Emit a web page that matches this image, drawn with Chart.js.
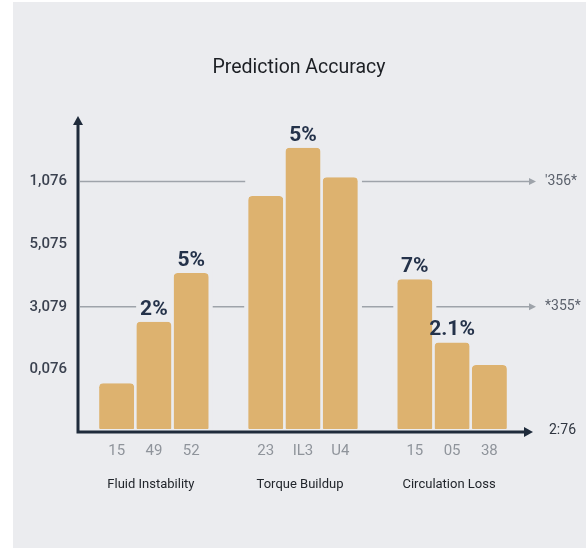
<!DOCTYPE html>
<html>
<head>
<meta charset="utf-8">
<style>
  html, body { margin: 0; padding: 0; background: #ffffff; }
  canvas { display: block; }
</style>
<script src="https://cdn.jsdelivr.net/npm/chart.js@4.4.1/dist/chart.umd.min.js"></script>
</head>
<body>
<canvas id="chart" width="586" height="548"></canvas>
<script>
// Bars, one slot per bar, empty slots separate the three groups
const categories = ['15', '49', '52', '', '23', 'IL3', 'U4', '', '15', '05', '38'];
const values = [0.78, 1.76, 2.54, null, 3.77, 4.54, 4.07, null, 2.44, 1.43, 1.07];
const valueLabels = ['', '2%', '5%', '', '', '5%', '', '', '7%', '2.1%', ''];

// Group names and the slot of each group's middle bar
const groups = ['Fluid Instability', 'Torque Buildup', 'Circulation Loss'];
const groupMiddle = [1, 5, 9];

// Value axis tick labels, one per step (0..5)
const yTickLabels = ['', '0,076', '3,079', '5,075', '1,076', ''];

// Reference lines with their right-hand labels
const refLineValues = [4, 2];
const refLineLabels = ["'356*", '*355*'];
const cornerLabel = '2:76';

const BG = '#ebecef';
const BAR = '#ddb26f';
const AXIS = '#1f2b3b';
const LABEL_FONT = 'bold 21px Roboto';

const panel = {
  id: 'panel',
  beforeDraw(chart) {
    const ctx = chart.ctx;
    ctx.save();
    ctx.fillStyle = '#ffffff';
    ctx.fillRect(0, 0, chart.width, chart.height);
    ctx.fillStyle = BG;
    ctx.fillRect(13, 2, chart.width - 13, chart.height - 2);
    ctx.restore();
  }
};

const overlay = {
  id: 'overlay',
  beforeDatasetsDraw(chart) {
    const { ctx, chartArea: a, scales: { y } } = chart;
    const bars = chart.getDatasetMeta(0).data;
    const axisX = a.left - 20;
    const gapL = bars[4].x - bars[4].width / 2 - 3;
    const gapR = bars[6].x + bars[6].width / 2 + 4;
    const tip = a.right + 28;
    ctx.save();
    ctx.strokeStyle = '#9ea3aa';
    ctx.fillStyle = '#9ea3aa';
    ctx.lineWidth = 1.5;
    refLineValues.forEach(v => {
      const py = y.getPixelForValue(v);
      ctx.beginPath();
      ctx.moveTo(axisX + 2, py);
      ctx.lineTo(gapL, py);
      ctx.moveTo(gapR, py);
      ctx.lineTo(tip - 5, py);
      ctx.stroke();
      ctx.beginPath();
      ctx.moveTo(tip, py);
      ctx.lineTo(tip - 7, py - 3.5);
      ctx.lineTo(tip - 7, py + 3.5);
      ctx.closePath();
      ctx.fill();
    });
    // keep a small margin of background around bars and value labels
    ctx.fillStyle = BG;
    bars.forEach((b, i) => {
      if (values[i] == null) return;
      ctx.fillRect(b.x - b.width / 2 - 4, b.y - 4, b.width + 8, b.base - b.y + 4);
    });
    ctx.font = LABEL_FONT;
    valueLabels.forEach((t, i) => {
      if (!t) return;
      const b = bars[i];
      const w = ctx.measureText(t).width;
      ctx.fillRect(b.x - w / 2 - 4, b.y - 7 - 19, w + 8, 23);
    });
    ctx.restore();
  },
  afterDatasetsDraw(chart) {
    const { ctx, chartArea: a, scales: { y } } = chart;
    const bars = chart.getDatasetMeta(0).data;
    const axisX = a.left - 20;
    const axisY = a.bottom;
    ctx.save();

    // axes with arrowheads
    ctx.strokeStyle = AXIS;
    ctx.fillStyle = AXIS;
    ctx.lineWidth = 3;
    ctx.beginPath();
    ctx.moveTo(axisX, axisY + 1.5);
    ctx.lineTo(axisX, a.top + 6);
    ctx.moveTo(axisX - 1.5, axisY);
    ctx.lineTo(a.right + 18, axisY);
    ctx.stroke();
    ctx.beginPath();
    ctx.moveTo(axisX, a.top - 3);
    ctx.lineTo(axisX - 5, a.top + 6);
    ctx.lineTo(axisX + 5, a.top + 6);
    ctx.closePath();
    ctx.fill();
    ctx.beginPath();
    ctx.moveTo(a.right + 25, axisY);
    ctx.lineTo(a.right + 16, axisY - 5);
    ctx.lineTo(a.right + 16, axisY + 5);
    ctx.closePath();
    ctx.fill();

    // value labels above bars
    ctx.font = LABEL_FONT;
    ctx.fillStyle = '#24324a';
    ctx.textAlign = 'center';
    ctx.textBaseline = 'alphabetic';
    valueLabels.forEach((t, i) => {
      if (!t) return;
      const b = bars[i];
      ctx.fillText(t, b.x, b.y - 7);
    });

    // group names under the tick labels
    ctx.font = '13px Roboto';
    ctx.fillStyle = '#22262c';
    groups.forEach((g, i) => {
      ctx.fillText(g, bars[groupMiddle[i]].x - 3, axisY + 56);
    });

    // reference line labels and the corner label
    ctx.textAlign = 'left';
    ctx.textBaseline = 'middle';
    ctx.font = '14px Roboto';
    ctx.fillStyle = '#5b616c';
    refLineValues.forEach((v, i) => {
      ctx.fillText(refLineLabels[i], a.right + 37, y.getPixelForValue(v));
    });
    ctx.fillStyle = '#2f3540';
    ctx.fillText(cornerLabel, a.right + 41, axisY - 2);
    ctx.restore();
  }
};

new Chart(document.getElementById('chart'), {
  type: 'bar',
  data: {
    labels: categories,
    datasets: [{
      data: values,
      backgroundColor: BAR,
      borderColor: BG,
      borderWidth: { top: 0, left: 0, right: 0, bottom: 3 },
      borderSkipped: false,
      borderRadius: 4,
      barPercentage: 0.94,
      categoryPercentage: 1
    }]
  },
  options: {
    responsive: false,
    animation: false,
    devicePixelRatio: 1,
    layout: { padding: { left: 12, right: 0, top: 0, bottom: 0 } },
    plugins: {
      legend: { display: false },
      tooltip: { enabled: false },
      title: {
        display: true,
        text: 'Prediction Accuracy',
        color: '#1c1f24',
        font: { family: 'Roboto', size: 19.5, weight: 'normal' },
        padding: { top: 56, bottom: 39.6 }
      }
    },
    scales: {
      x: {
        grid: { display: false, drawTicks: false },
        border: { display: false },
        ticks: {
          color: '#8f949b',
          font: { family: 'Roboto', size: 15 },
          padding: 10,
          maxRotation: 0,
          autoSkip: false
        },
        afterFit(s) { s.height = 116; }
      },
      y: {
        min: 0,
        max: 5,
        grid: { display: false, drawTicks: false },
        border: { display: false },
        ticks: {
          stepSize: 1,
          autoSkip: false,
          color: '#3b4250',
          font: { family: 'Roboto', size: 15, weight: '500' },
          padding: 31,
          callback: (v) => yTickLabels[v] ?? ''
        },
        afterFit(s) { s.width = 86; }
      },
      // reserves room on the right for the reference line labels
      side: {
        position: 'right',
        grid: { display: false, drawTicks: false },
        border: { display: false },
        ticks: { display: false },
        afterFit(s) { s.width = 78; }
      }
    }
  },
  plugins: [panel, overlay]
});
</script>
</body>
</html>
